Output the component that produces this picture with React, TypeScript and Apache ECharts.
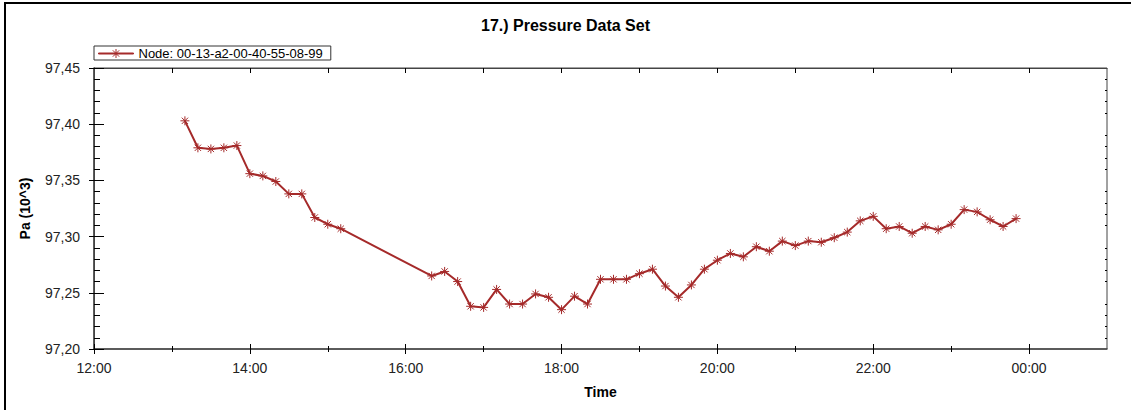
import React, { useEffect, useRef } from "react";
import * as echarts from "echarts";

const times = [
  "13:10", "13:20", "13:30", "13:40", "13:50", "14:00", "14:10", "14:20", "14:30", "14:40", "14:50", "15:00", "15:10",
  "16:20", "16:30", "16:40", "16:50", "17:00", "17:10", "17:20", "17:30", "17:40", "17:50", "18:00", "18:10", "18:20",
  "18:30", "18:40", "18:50", "19:00", "19:10", "19:20", "19:30", "19:40", "19:50", "20:00", "20:10", "20:20", "20:30",
  "20:40", "20:50", "21:00", "21:10", "21:20", "21:30", "21:40", "21:50", "22:00", "22:10", "22:20", "22:30", "22:40",
  "22:50", "23:00", "23:10", "23:20", "23:30", "23:40", "23:50",
];

const pressure = [
  97.403, 97.379, 97.378, 97.379, 97.381, 97.356, 97.354, 97.349, 97.338, 97.338, 97.317, 97.311, 97.307,
  97.265, 97.269, 97.26, 97.238, 97.237, 97.253, 97.24, 97.24, 97.249, 97.246, 97.235, 97.247, 97.24,
  97.262, 97.262, 97.262, 97.267, 97.271, 97.256, 97.246, 97.257, 97.271, 97.279, 97.285, 97.282, 97.291,
  97.287, 97.296, 97.292, 97.296, 97.295, 97.299, 97.304, 97.314, 97.318, 97.307, 97.309, 97.303, 97.309,
  97.306, 97.311, 97.324, 97.322, 97.315, 97.309, 97.316,
];

const seriesName = "Node: 00-13-a2-00-40-55-08-99";
const chartTitle = "17.) Pressure Data Set";

// x axis: minutes after 12:00
const xMin = 0;
const xMax = 780;
const xMajorTicks = [0, 120, 240, 360, 480, 600, 720];
const xMinorTicks = [60, 180, 300, 420, 540, 660];
const xTopTicks = [60, 120, 180, 240, 300, 360, 420, 480, 540, 600, 660, 720];

const yMin = 97.2;
const yMax = 97.45;
const yMajorTicks = [97.2, 97.25, 97.3, 97.35, 97.4, 97.45];
const yMinorTicks: number[] = [];
for (let i = 1; i < 25; i++) {
  if (i % 5 !== 0) yMinorTicks.push(Math.round((97.2 + i * 0.01) * 1000) / 1000);
}

const toMinutes = (t: string) => {
  const [h, m] = t.split(":").map(Number);
  const hh = h < 12 ? h + 24 : h;
  return (hh - 12) * 60 + m;
};

const FONT = "Liberation Sans, Arial, sans-serif";
const RED = "#a52a2a";
const AX = "#444";
const STAR = "path://M0,5L10,5M5,0L5,10M1.5,1.5L8.5,8.5M8.5,1.5L1.5,8.5";
const LEGEND_ICON =
  "path://M0,4L35,4L35,5L0,5Z M13,4.5L22,4.5M17.5,0L17.5,9M14.3,1.3L20.7,7.7M20.7,1.3L14.3,7.7";

export default function App() {
  const ref = useRef<HTMLDivElement>(null);
  useEffect(() => {
    if (!ref.current) return;
    const chart = echarts.init(ref.current, undefined, { renderer: "svg" });
    const fmtX = (v: number) => {
      const h = (12 + Math.round(v / 60)) % 24;
      return (h < 10 ? "0" : "") + h + ":00";
    };
    const baseX = {
      type: "value",
      min: xMin,
      max: xMax,
      splitLine: { show: false },
      axisLabel: { show: false },
      axisLine: { show: false },
    };
    const baseY = {
      type: "value",
      min: yMin,
      max: yMax,
      splitLine: { show: false },
      axisLabel: { show: false },
      axisLine: { show: false },
    };
    const option: any = {
      animation: false,
      backgroundColor: "#fff",
      title: {
        text: chartTitle,
        left: "center",
        top: 12,
        textStyle: { fontFamily: FONT, fontSize: 16, fontWeight: "bold", color: "#000" },
      },
      legend: {
        left: 94,
        top: 46,
        padding: [1, 8, 0, 4],
        borderColor: "#333",
        borderWidth: 1,
        itemWidth: 35,
        itemHeight: 9,
        icon: LEGEND_ICON,
        itemStyle: { color: RED, borderColor: RED, borderWidth: 1 },
        textStyle: { fontFamily: FONT, fontSize: 13, color: "#000" },
        data: [seriesName],
      },
      grid: { left: 94, top: 68, right: 24, bottom: 61, show: true, borderColor: AX, borderWidth: 1 },
      graphic: [
        {
          type: "rect",
          shape: { x: 5, y: 3, width: 1200, height: 500 },
          style: { fill: "none", stroke: "#000", lineWidth: 2 },
          silent: true,
        },
      ],
      xAxis: [
        {
          ...baseX,
          position: "bottom",
          name: "Time",
          nameLocation: "middle",
          nameGap: 36,
          nameTextStyle: { fontFamily: FONT, fontSize: 14, fontWeight: "bold", color: "#000" },
          axisLine: { show: true, lineStyle: { color: AX, width: 1.5 } },
          axisTick: { show: false },
          axisLabel: {
            show: true,
            customValues: xMajorTicks,
            formatter: fmtX,
            margin: 12,
            fontFamily: FONT,
            fontSize: 14,
            color: "#222",
          },
        },
        {
          ...baseX,
          position: "bottom",
          offset: 5,
          axisTick: { show: true, inside: true, length: 10, customValues: xMajorTicks, lineStyle: { color: "#000" } },
        },
        {
          ...baseX,
          position: "bottom",
          offset: 3,
          axisTick: { show: true, inside: true, length: 6, customValues: xMinorTicks, lineStyle: { color: "#000" } },
        },
        {
          ...baseX,
          position: "top",
          axisLine: { show: true, lineStyle: { color: AX, width: 1 } },
          axisTick: { show: true, inside: true, length: 5, customValues: xTopTicks, lineStyle: { color: "#000" } },
        },
      ],
      yAxis: [
        {
          ...baseY,
          position: "left",
          interval: 0.05,
          name: "Pa (10^3)",
          nameLocation: "middle",
          nameGap: 62,
          nameRotate: 90,
          nameTextStyle: { fontFamily: FONT, fontSize: 14, fontWeight: "bold", color: "#000" },
          axisLine: { show: true, lineStyle: { color: AX, width: 1.5 } },
          axisTick: { show: false },
          axisLabel: {
            show: true,
            customValues: yMajorTicks,
            formatter: (v: number) => v.toFixed(2).replace(".", ","),
            margin: 14,
            fontFamily: FONT,
            fontSize: 14,
            color: "#222",
          },
        },
        {
          ...baseY,
          position: "left",
          offset: 5,
          axisTick: { show: true, inside: true, length: 10, customValues: yMajorTicks, lineStyle: { color: "#000" } },
        },
        {
          ...baseY,
          position: "left",
          offset: 3,
          axisTick: { show: true, inside: true, length: 6, customValues: yMinorTicks, lineStyle: { color: "#000" } },
        },
        {
          ...baseY,
          position: "right",
          axisLine: { show: true, lineStyle: { color: AX, width: 1 } },
          axisTick: { show: true, inside: true, length: 5, customValues: yMajorTicks, lineStyle: { color: "#000" } },
        },
        {
          ...baseY,
          position: "right",
          axisTick: { show: true, inside: true, length: 2, customValues: yMinorTicks, lineStyle: { color: "#000" } },
        },
      ],
      series: [
        {
          name: seriesName,
          type: "line",
          xAxisIndex: 0,
          yAxisIndex: 0,
          data: times.map((t, i) => [toMinutes(t), pressure[i]]),
          symbol: STAR,
          symbolSize: 9,
          color: RED,
          itemStyle: { color: "rgba(0,0,0,0)", borderColor: RED, borderWidth: 1 },
          lineStyle: { color: RED, width: 2 },
        },
      ],
    };
    chart.setOption(option);
    return () => chart.dispose();
  }, []);
  return (
    <div
      ref={ref}
      style={{ position: "absolute", left: 0, top: 0, width: 1131, height: 410 }}
    />
  );
}
